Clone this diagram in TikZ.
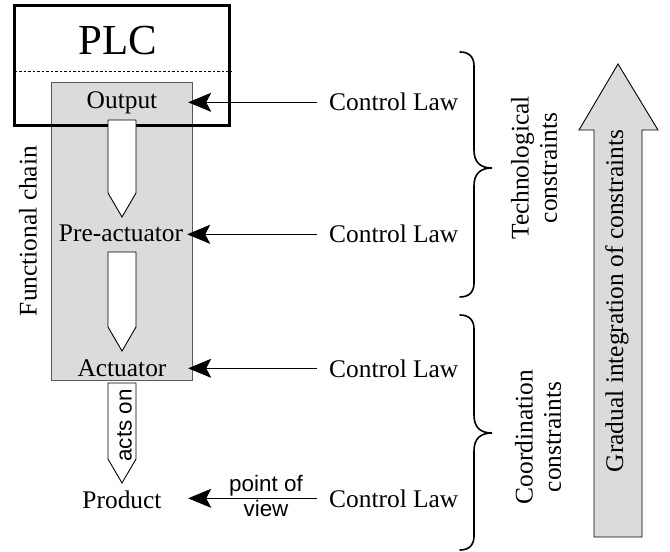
\documentclass[tikz,border=0pt]{standalone}
\usepackage{fontspec}
\setmainfont{Liberation Serif}
\setsansfont{Liberation Sans}
\usetikzlibrary{arrows.meta,calc}
\tikzset{
 txt/.style={font=\fontsize{25.5}{28.5}\selectfont, inner sep=0pt},
 chainlbl/.style={txt, minimum width=132bp, anchor=base},
 law/.style={txt, inner xsep=12bp, anchor=base west},
 ctl/.style={draw=black, line width=0.8bp, -{Stealth[length=23bp,width=19bp,inset=5bp]}},
 blockarrow/.style={draw=black, fill=white, line width=0.9bp},
 brc/.style={draw=black, line width=1.6bp, line cap=round},
 sans/.style={font=\sffamily\fontsize{22.5}{25.5}\selectfont, inner sep=0pt},
 graybox/.style={draw=black!65, fill=black!14, line width=0.9bp, inner sep=0pt, outer sep=0pt},
}
\begin{document}
\begin{tikzpicture}[x=1bp,y=-1bp]
\useasboundingbox (0,0) rectangle (670,552);
% functional chain box
\node[graybox, minimum width=141.5bp, minimum height=298bp] (chain) at (121.75,231) {};
% PLC box
\node[draw=black, line width=3bp, minimum width=214.5bp, minimum height=120.7bp, inner sep=0pt, outer sep=0pt] (plc) at (121.75,65.65) {};
\draw[dash pattern=on 2.5bp off 2bp, line width=1bp] (14.5,72) -- (232,72);
% block arrows
\path[blockarrow] (108,120) -- (136,120) -- (136,193) -- (122,217) -- (108,193) -- cycle;
\path[blockarrow] (108,252) -- (136,252) -- (136,327) -- (122,351) -- (108,327) -- cycle;
\path[blockarrow] (108,383) -- (136,383) -- (136,459) -- (122,483) -- (108,459) -- cycle;
% labels
\node[txt, font=\fontsize{43}{48}\selectfont, anchor=base] (plcl) at (118,55) {PLC};
\node[chainlbl] (out) at (122,109) {Output};
\node[chainlbl] (pre) at (121,242) {Pre-actuator};
\node[chainlbl] (act) at (122,376) {Actuator};
\node[chainlbl] (prod) at (122,508) {Product};
\node[txt, rotate=90] (fc) at (28,231) {Functional chain};
\node[sans, rotate=90] (acts) at (124.5,425.5) {acts on};
% control laws
\node[law] (cl1) at (317,111) {Control Law};
\node[law] (cl2) at (317,243) {Control Law};
\node[law] (cl3) at (317,377) {Control Law};
\node[law] (cl4) at (317,507) {Control Law};
\draw[ctl] (cl1.west) -- (out.east |- cl1.west);
\draw[ctl] (cl2.west) -- (pre.east |- cl2.west);
\draw[ctl] (cl3.west) -- (act.east |- cl3.west);
\draw[ctl] (cl4.west) -- (prod.east |- cl4.west);
\node[sans, align=center] (pov) at (266,496) {point of\\view};
% braces
\draw[brc] (460,52) .. controls (469,52) and (474,57) .. (474,66) -- (474,150)
  .. controls (474,162) and (480,168) .. (492,168)
  .. controls (480,168) and (474,174) .. (474,186) -- (474,283)
  .. controls (474,292) and (469,297) .. (460,297);
\draw[brc] (460,315) .. controls (469,315) and (474,320) .. (474,329) -- (474,415)
  .. controls (474,427) and (480,433) .. (492,433)
  .. controls (480,433) and (474,439) .. (474,451) -- (474,536)
  .. controls (474,545) and (469,550) .. (460,550);
\node[txt, rotate=90, align=center] (tech) at (534,168) {Technological\\constraints};
\node[txt, rotate=90, align=center] (coord) at (538,437) {Coordination\\constraints};
% big arrow
\path[draw=black, fill=black!14, line width=0.9bp] (594,537) -- (594,130) -- (579,130) -- (618,64) -- (658,130) -- (642,130) -- (642,537) -- cycle;
\node[txt, rotate=90] (grad) at (617,301) {Gradual integration of constraints};
\end{tikzpicture}
\end{document}
